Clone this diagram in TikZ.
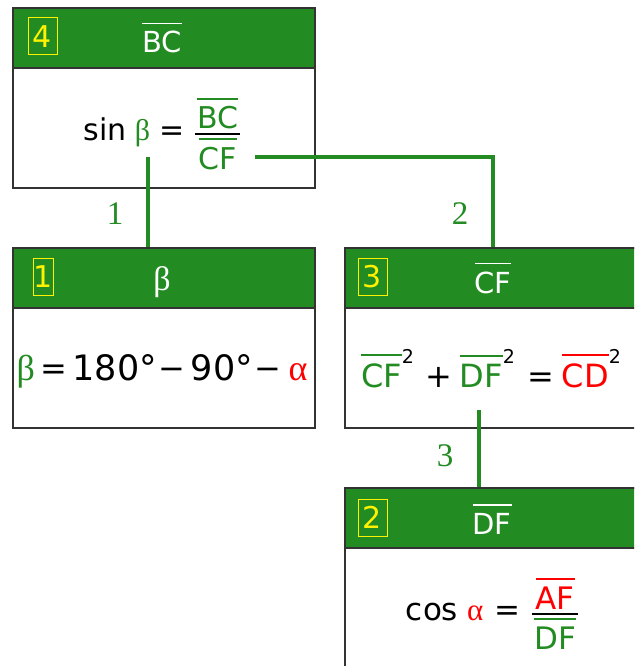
\documentclass[tikz,border=0pt]{standalone}
\usepackage{fontspec}
\setmainfont{DejaVu Sans}
\newfontfamily\grk{Liberation Serif}
\newfontfamily\labfont{Liberation Serif}
\definecolor{fg}{RGB}{34,139,34}
\definecolor{edge}{RGB}{51,51,51}
\newcommand\ovl[1]{\vbox{\hrule height 1.8pt\kern 7pt\hbox{#1}}}
\newcommand\frc[2]{$\vcenter{\halign{\hfil\kern2pt##\kern2pt\hfil\cr #1\cr\noalign{\kern 4pt\hrule height 2pt\kern 3pt}#2\cr}}$}
\newcommand\sqr{\raisebox{0.74em}{\fontsize{19}{22}\selectfont\color{black}2}}
\newcommand\smop[1]{\raisebox{1pt}{\fontsize{32}{34}\selectfont #1}}
\tikzset{
  box/.style={draw=edge, line width=1.6pt, fill=white, anchor=north west, inner sep=0pt},
  hdr/.style={draw=edge, line width=1.6pt, fill=fg, anchor=north west, inner sep=0pt, minimum height=60pt},
  numbox/.style={draw=yellow, line width=1pt, text=yellow, inner sep=0pt, font=\fontsize{30}{34}\selectfont},
  htext/.style={text=white, inner sep=0pt, font=\fontsize{29}{34}\selectfont},
  formula/.style={inner sep=0pt, anchor=base},
  conn/.style={draw=fg, line width=3.5pt},
  clab/.style={text=fg, inner sep=0pt, font=\labfont\fontsize{33}{36}\selectfont},
}
\begin{document}
\begin{tikzpicture}[x=1pt,y=-1pt]
\useasboundingbox (0,0) rectangle (634,666);
\clip (0,0) rectangle (634,666);
\fill[white] (0,0) rectangle (634,666);
% box 4
\node[box, minimum width=302pt, minimum height=180pt] (b4) at (12,7) {};
\node[hdr, minimum width=302pt] (h4) at (12,7) {};
\node[numbox, minimum width=29pt, minimum height=37pt] (n4) at (42.5,36.5) {4};
\node[htext, anchor=base] (t4) at (162,53) {\ovl{BC}};
\node[formula, font=\fontsize{30}{36}\selectfont] (f4) at (162,140) {sin\hspace{8pt}\textcolor{fg}{\grk β}\hspace{9pt}=\hspace{11pt}\frc{\textcolor{fg}{\ovl{BC}}}{\textcolor{fg}{\ovl{CF}}}};
% box 1
\node[box, minimum width=302pt, minimum height=180pt] (b1) at (12,247) {};
\node[hdr, minimum width=302pt] (h1) at (12,247) {};
\node[numbox, minimum width=20pt, minimum height=37pt] (n1) at (43,276.5) {1};
\node[htext, anchor=base, font=\grk\fontsize{34}{38}\selectfont] (t1) at (162,290) {β};
\node[formula, font=\fontsize{35}{40}\selectfont] (f1) at (162,380) {\textcolor{fg}{\grk\fontsize{36}{40}\selectfont β}\hspace{6pt}\smop{=}\hspace{5pt}180°\hspace{2pt}\smop{−}\hspace{5pt}90°\hspace{2pt}\smop{−}\hspace{7pt}\textcolor{red}{\grk\fontsize{36}{40}\selectfont α}};
% box 3
\node[box, minimum width=300pt, minimum height=180pt] (b3) at (344,247) {};
\node[hdr, minimum width=300pt] (h3) at (344,247) {};
\node[numbox, minimum width=29pt, minimum height=37pt] (n3) at (372.5,276.5) {3};
\node[htext, anchor=base] (t3) at (493,293) {\ovl{CF}};
\node[formula, font=\fontsize{32}{36}\selectfont] (f3) at (491,387) {\textcolor{fg}{\ovl{CF}}\sqr\hspace{11pt}+\hspace{8pt}\textcolor{fg}{\ovl{DF}}\sqr\hspace{13pt}=\hspace{7pt}\textcolor{red}{\ovl{CD}}\sqr};
% box 2
\node[box, minimum width=300pt, minimum height=190pt] (b2) at (344,487) {};
\node[hdr, minimum width=300pt] (h2) at (344,487) {};
\node[numbox, minimum width=29pt, minimum height=37pt] (n2) at (372.5,517.5) {2};
\node[htext, anchor=base] (t2) at (492,534) {\ovl{DF}};
\node[formula, font=\fontsize{31}{36}\selectfont] (f2) at (492,620) {cos\hspace{9pt}\textcolor{red}{\grk α}\hspace{11pt}=\hspace{12pt}\frc{\textcolor{red}{\ovl{AF}}}{\textcolor{fg}{\ovl{DF}}}};
% connectors
\coordinate (c1) at (148,157);
\coordinate (c2) at (255,157);
\coordinate (c2k) at (493,157);
\coordinate (c3) at (479,410);
\draw[conn] (c1) -- (c1 |- b1.north);
\draw[conn] (c2) -- (c2k) -- (c2k |- b3.north);
\draw[conn] (c3) -- (c3 |- b2.north);
\node[clab] (l1) at (115,214) {1};
\node[clab] (l2) at (460,214) {2};
\node[clab] (l3) at (445,456) {3};
\end{tikzpicture}
\end{document}
